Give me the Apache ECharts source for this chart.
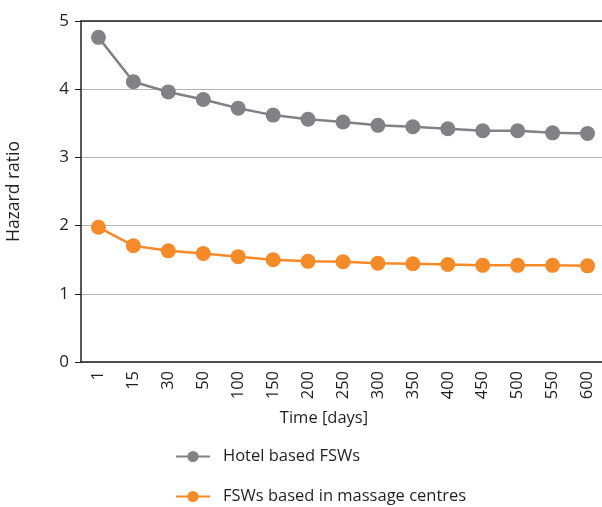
<!DOCTYPE html>
<html><head><meta charset="utf-8">
<script src="https://cdn.jsdelivr.net/npm/echarts@6/dist/echarts.min.js"></script>
<style>html,body{margin:0;padding:0;background:#fff}#c{width:602px;height:507px}</style>
</head><body><div id="c"></div>
<script>
var categories = ['1','15','30','50','100','150','200','250','300','350','400','450','500','550','600'];
var hotel = [4.76,4.11,3.96,3.85,3.72,3.62,3.56,3.52,3.47,3.45,3.42,3.39,3.39,3.36,3.35];
var massage = [1.975,1.705,1.63,1.59,1.545,1.50,1.476,1.47,1.447,1.44,1.43,1.417,1.417,1.417,1.41];
var seriesNames = ['Hotel based FSWs','FSWs based in massage centres'];
var yTicks = [0,1,2,3,4,5];
var font = 'Open Sans';
var chart = echarts.init(document.getElementById('c'));
chart.setOption({
  animation:false,
  textStyle:{fontFamily:font},
  grid:{left:81,right:-3,top:21,bottom:145,containLabel:false,outerBoundsMode:'none'},
  legend:{
    orient:'vertical',left:175,top:448,padding:0,height:60,itemWidth:34,itemHeight:14,itemGap:23,
    textStyle:{fontFamily:font,fontSize:16.5,color:'#231f20',padding:[0,0,0,8]},
    data:seriesNames
  },
  xAxis:[{
    type:'category',data:categories,boundaryGap:true,
    axisLine:{lineStyle:{color:'#231f20',width:1.5}},
    axisTick:{show:false},
    axisLabel:{rotate:90,fontSize:16.5,color:'#231f20',margin:9,fontFamily:font},
    name:'Time [days]',nameLocation:'middle',nameGap:48,
    nameTextStyle:{fontSize:16.5,color:'#231f20',fontFamily:font,padding:[0,38,0,0]}
  },{
    type:'category',data:categories,position:'top',
    axisLine:{lineStyle:{color:'#231f20',width:1.5}},
    axisTick:{show:false},axisLabel:{show:false}
  }],
  yAxis:{
    type:'value',min:yTicks[0],max:yTicks[yTicks.length-1],interval:1,
    axisLine:{show:true,lineStyle:{color:'#231f20',width:1.5}},
    axisTick:{show:true,length:6,lineStyle:{color:'#231f20'}},
    axisLabel:{fontSize:17,color:'#231f20',margin:12,fontFamily:font},
    splitLine:{lineStyle:{color:'#b3b3b3',width:1.2}},
    name:'Hazard ratio',nameLocation:'middle',nameGap:58,
    nameTextStyle:{fontSize:17.5,color:'#231f20',fontFamily:font}
  },
  series:[{
    name:seriesNames[0],type:'line',data:hotel,symbol:'circle',symbolSize:15,
    itemStyle:{color:'#808285'},lineStyle:{color:'#808285',width:2.5}
  },{
    name:seriesNames[1],type:'line',data:massage,symbol:'circle',symbolSize:15,
    itemStyle:{color:'#f58a29'},lineStyle:{color:'#f58a29',width:2.5}
  }]
});
</script></body></html>
